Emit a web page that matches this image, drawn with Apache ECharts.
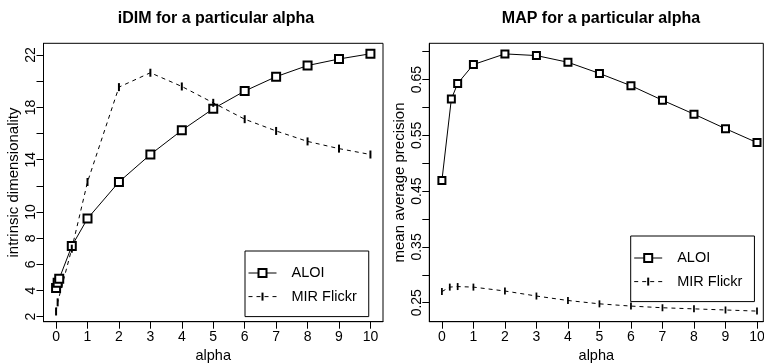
<!DOCTYPE html>
<html>
<head>
<meta charset="utf-8">
<script src="https://cdn.jsdelivr.net/npm/echarts@6/dist/echarts.min.js"></script>
<style>
  html, body { margin: 0; padding: 0; background: #fff; }
  #chart { width: 764px; height: 364px; }
</style>
</head>
<body>
<div id="chart"></div>
<script>
// iDIM panel
const aloiAlphaIdim = [0, 0.05, 0.1, 0.5, 1, 2, 3, 4, 5, 6, 7, 8, 9, 10];
const aloiIdim = [4.2, 4.6, 4.9, 7.4, 9.5, 12.3, 14.4, 16.25, 17.9, 19.25, 20.35, 21.2, 21.7, 22.1];
const mirAlphaIdim = [0, 0.05, 0.5, 1, 2, 3, 4, 5, 6, 7, 8, 9, 10];
const mirIdim = [2.4, 3.1, 7.2, 12.3, 19.55, 20.65, 19.6, 18.35, 17.1, 16.2, 15.4, 14.85, 14.4];

// MAP panel
const aloiAlphaMap = [0, 0.3, 0.5, 1, 2, 3, 4, 5, 6, 7, 8, 9, 10];
const aloiMap = [0.469, 0.615, 0.643, 0.677, 0.696, 0.693, 0.681, 0.661, 0.639, 0.613, 0.588, 0.562, 0.537];
const mirAlphaMap = [0, 0.25, 0.5, 1, 2, 3, 4, 5, 6, 7, 8, 9, 10];
const mirMap = [0.270, 0.278, 0.279, 0.278, 0.271, 0.262, 0.254, 0.248, 0.244, 0.241, 0.239, 0.237, 0.235];

// ticks
const alphaTicks = [0, 1, 2, 3, 4, 5, 6, 7, 8, 9, 10];
const idimTicks = [2, 4, 6, 8, 10, 12, 14, 16, 18, 20, 22];
const idimLabels = [2, 4, 6, 8, 10, 14, 18, 22];
const mapTicks = [0.25, 0.30, 0.35, 0.40, 0.45, 0.50, 0.55, 0.60, 0.65, 0.70];
const mapLabels = [0.25, 0.35, 0.45, 0.55, 0.65];

const seriesNames = ['ALOI', 'MIR Flickr'];
const titles = ['iDIM for a particular alpha', 'MAP for a particular alpha'];

const font = 'Liberation Sans, Arial, sans-serif';
// thin vertical bar inside a square box, so it keeps its shape in the legend too
const barSymbol = 'path://M0,0M8,8M3,0L5,0L5,8L3,8Z';

function zip(xs, ys) {
  return xs.map((x, i) => [x, ys[i]]);
}

function xAxisFor(idx) {
  return {
    type: 'value',
    gridIndex: idx,
    min: -0.4,
    max: idx === 0 ? 10.4 : 10.2,
    name: 'alpha',
    nameLocation: 'middle',
    nameGap: 24,
    nameTextStyle: { color: '#000', fontSize: 14.5, fontFamily: font },
    axisLine: { show: true, onZero: false, lineStyle: { color: '#000', width: 1 } },
    axisTick: { show: true, length: 7, customValues: alphaTicks, lineStyle: { color: '#000' } },
    axisLabel: {
      customValues: alphaTicks,
      color: '#000',
      fontSize: 14,
      fontFamily: font,
      margin: 8
    },
    splitLine: { show: false }
  };
}

function yAxisFor(idx, min, max, ticks, labels, name, gap, dec) {
  return {
    type: 'value',
    gridIndex: idx,
    min: min,
    max: max,
    name: name,
    nameLocation: 'middle',
    nameGap: gap,
    nameTextStyle: { color: '#000', fontSize: 15, fontFamily: font },
    axisLine: { show: true, onZero: false, lineStyle: { color: '#000', width: 1 } },
    axisTick: { show: true, length: 7, customValues: ticks, lineStyle: { color: '#000' } },
    axisLabel: {
      customValues: labels,
      rotate: 90,
      color: '#000',
      fontSize: 14,
      fontFamily: font,
      margin: 5,
      formatter: v => dec ? v.toFixed(2) : String(v)
    },
    splitLine: { show: false }
  };
}

function legendFor(names, left, top) {
  return {
    data: names,
    orient: 'vertical',
    left: left, top: top,
    padding: [14.5, 12, 12.5, 3],
    itemWidth: 28, itemHeight: 10, itemGap: 8.6,
    borderColor: '#000', borderWidth: 1, borderRadius: 0,
    backgroundColor: '#fff',
    itemStyle: { borderWidth: 1 },
    lineStyle: { width: 1 },
    textStyle: { color: '#000', fontSize: 14.5, lineHeight: 10, fontFamily: font, padding: [0, 0, 0, 10] },
    formatter: n => n.trim(),
    selectedMode: false
  };
}

const chart = echarts.init(document.getElementById('chart'), null, { renderer: 'canvas' });

chart.setOption({
  backgroundColor: '#fff',
  animation: false,
  title: [
    { text: titles[0], left: 211, top: 6, textAlign: 'center',
      textStyle: { fontSize: 16, fontWeight: 'bold', color: '#000', fontFamily: font } },
    { text: titles[1], left: 596, top: 6, textAlign: 'center',
      textStyle: { fontSize: 16, fontWeight: 'bold', color: '#000', fontFamily: font } }
  ],
  grid: [
    { left: 43.5, top: 43.3, width: 339.5, height: 278.4, show: true, borderColor: '#000', borderWidth: 1,
      outerBoundsMode: 'none', containLabel: false },
    { left: 429.3, top: 43.3, width: 334, height: 278.4, show: true, borderColor: '#000', borderWidth: 1,
      outerBoundsMode: 'none', containLabel: false }
  ],
  legend: [
    legendFor(seriesNames, 245, 251),
    legendFor(seriesNames.map(n => n + ' '), 630.7, 236)
  ],
  xAxis: [xAxisFor(0), xAxisFor(1)],
  yAxis: [
    yAxisFor(0, 1.62, 22.9, idimTicks, idimLabels, 'intrinsic dimensionality', 22.5, false),
    yAxisFor(1, 0.216, 0.715, mapTicks, mapLabels, 'mean average precision', 21.5, true)
  ],
  series: [
    {
      name: seriesNames[0], type: 'line', xAxisIndex: 0, yAxisIndex: 0,
      data: zip(aloiAlphaIdim, aloiIdim),
      symbol: 'emptyRect', symbolSize: 8,
      itemStyle: { color: '#000', borderWidth: 1 },
      lineStyle: { color: '#000', width: 1 }
    },
    {
      name: seriesNames[1], type: 'line', xAxisIndex: 0, yAxisIndex: 0,
      data: zip(mirAlphaIdim, mirIdim),
      symbol: barSymbol, symbolSize: 8,
      itemStyle: { color: '#000' },
      lineStyle: { color: '#000', width: 1, type: [4, 4] }
    },
    {
      name: seriesNames[0] + ' ', type: 'line', xAxisIndex: 1, yAxisIndex: 1,
      data: zip(aloiAlphaMap, aloiMap),
      symbol: 'emptyRect', symbolSize: 7,
      itemStyle: { color: '#000', borderWidth: 1 },
      lineStyle: { color: '#000', width: 1 }
    },
    {
      name: seriesNames[1] + ' ', type: 'line', xAxisIndex: 1, yAxisIndex: 1,
      data: zip(mirAlphaMap, mirMap),
      symbol: barSymbol, symbolSize: 7,
      itemStyle: { color: '#000' },
      lineStyle: { color: '#000', width: 1, type: [4, 4] }
    }
  ]
});
</script>
</body>
</html>
